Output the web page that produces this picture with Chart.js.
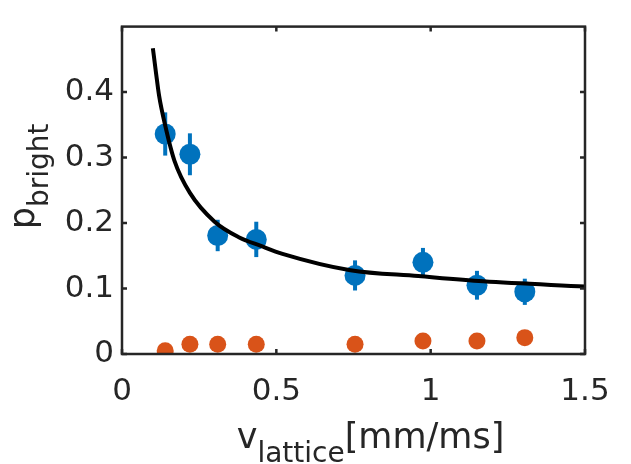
<!DOCTYPE html>
<html>
<head>
<meta charset="utf-8">
<script src="https://cdn.jsdelivr.net/npm/chart.js@4"></script>
<style>
  html, body { margin: 0; padding: 0; background: #fff; }
</style>
</head>
<body>
<canvas id="chart" width="631" height="464"></canvas>
<script>
// ----- Data -----
const vLattice   = [0.14, 0.22, 0.31, 0.435, 0.755, 0.975, 1.15, 1.305];
const pBright    = [0.336, 0.305, 0.181, 0.175, 0.12, 0.14, 0.105, 0.095];
const pBrightErr = [0.033, 0.032, 0.024, 0.027, 0.023, 0.022, 0.022, 0.020];
const pDark      = [0.005, 0.015, 0.015, 0.015, 0.015, 0.02, 0.02, 0.025];

// fit curve, sampled by eye along the black line
const fitX = [0.10, 0.11, 0.12, 0.14, 0.17, 0.22, 0.30, 0.38, 0.45, 0.52, 0.74, 0.96, 1.17, 1.5];
const fitY = [0.467, 0.43, 0.395, 0.349, 0.295, 0.246, 0.202, 0.178, 0.165, 0.153, 0.128, 0.119, 0.111, 0.103];

const xTicks = [0, 0.5, 1, 1.5];
const yTicks = [0, 0.1, 0.2, 0.3, 0.4];

const axisColor = '#262626';
const fontFam = '"DejaVu Sans", Verdana, sans-serif';

function pts(xs, ys) { return xs.map((x, i) => ({x: x, y: ys[i]})); }

// ----- error bars, drawn under the markers -----
const errorBars = {
  id: 'errorBars',
  beforeDatasetsDraw(chart) {
    const c = chart.ctx, xs = chart.scales.x, ys = chart.scales.y;
    c.save();
    c.strokeStyle = '#0072BD';
    c.lineWidth = 4;
    vLattice.forEach((v, i) => {
      const px = xs.getPixelForValue(v);
      c.beginPath();
      c.moveTo(px, ys.getPixelForValue(pBright[i] - pBrightErr[i]));
      c.lineTo(px, ys.getPixelForValue(pBright[i] + pBrightErr[i]));
      c.stroke();
    });
    c.restore();
  }
};

// ----- box with inward ticks + subscripted axis titles -----
const matlabAxes = {
  id: 'matlabAxes',
  afterDraw(chart) {
    const c = chart.ctx, a = chart.chartArea;
    const xs = chart.scales.x, ys = chart.scales.y;
    const tl = 5;
    c.save();
    c.strokeStyle = axisColor;
    c.lineWidth = 2.5;
    c.strokeRect(a.left, a.top, a.right - a.left, a.bottom - a.top);
    c.beginPath();
    xTicks.forEach(t => {
      const px = xs.getPixelForValue(t);
      c.moveTo(px, a.bottom); c.lineTo(px, a.bottom - tl);
      c.moveTo(px, a.top);    c.lineTo(px, a.top + tl);
    });
    yTicks.forEach(t => {
      const py = ys.getPixelForValue(t);
      c.moveTo(a.left, py);  c.lineTo(a.left + tl, py);
      c.moveTo(a.right, py); c.lineTo(a.right - tl, py);
    });
    c.stroke();

    // titles
    const mainF = '35px ' + fontFam, subF = '28px ' + fontFam, drop = 14;
    c.fillStyle = axisColor;
    c.textBaseline = 'alphabetic';
    c.textAlign = 'left';

    // x title: v_lattice[mm/ms]
    c.font = mainF; const w1 = c.measureText('v').width, w3 = c.measureText('[mm/ms]').width;
    c.font = subF;  const w2 = c.measureText('lattice').width;
    let x0 = (a.left + a.right) / 2 + 17 - (w1 + w2 + w3) / 2;
    const yb = 448;
    c.font = mainF; c.fillText('v', x0, yb);
    c.font = subF;  c.fillText('lattice', x0 + w1, yb + drop);
    c.font = mainF; c.fillText('[mm/ms]', x0 + w1 + w2, yb);

    // y title: p_bright
    c.font = mainF; const q1 = c.measureText('p').width;
    c.font = subF;  const q2 = c.measureText('bright').width;
    c.translate(34, (a.top + a.bottom) / 2 - 14);
    c.rotate(-Math.PI / 2);
    c.font = mainF; c.fillText('p', -(q1 + q2) / 2, 0);
    c.font = subF;  c.fillText('bright', -(q1 + q2) / 2 + q1, drop);
    c.restore();
  }
};

new Chart(document.getElementById('chart'), {
  type: 'scatter',
  data: {
    datasets: [
      {
        label: 'fit',
        type: 'line',
        data: pts(fitX, fitY),
        borderColor: '#000000',
        borderWidth: 4,
        pointRadius: 0,
        cubicInterpolationMode: 'monotone',
        fill: false,
        order: 0
      },
      {
        label: 'bright',
        data: pts(vLattice, pBright),
        backgroundColor: '#0072BD',
        borderWidth: 0,
        pointRadius: 10.5,
        order: 1
      },
      {
        label: 'dark',
        data: pts(vLattice, pDark),
        backgroundColor: '#D95319',
        borderWidth: 0,
        pointRadius: 8.5,
        order: 2
      }
    ]
  },
  options: {
    responsive: false,
    animation: false,
    events: [],
    layout: { padding: { top: 13, right: 46, left: 0, bottom: 0 } },
    plugins: { legend: { display: false }, tooltip: { enabled: false } },
    scales: {
      x: {
        type: 'linear',
        min: 0, max: 1.5,
        afterFit: s => { s.height = 110; },
        afterBuildTicks: s => { s.ticks = xTicks.map(v => ({value: v})); },
        grid: { display: false, drawTicks: false },
        border: { display: false },
        ticks: {
          padding: 19,
          color: axisColor,
          font: { family: fontFam, size: 31 },
          maxRotation: 0,
          callback: v => String(v)
        }
      },
      y: {
        type: 'linear',
        min: 0, max: 0.5,
        afterFit: s => { s.width = 122; },
        afterBuildTicks: s => { s.ticks = yTicks.map(v => ({value: v})); },
        grid: { display: false, drawTicks: false },
        border: { display: false },
        ticks: {
          padding: 8,
          color: axisColor,
          font: { family: fontFam, size: 31 },
          callback: v => String(v)
        }
      }
    }
  },
  plugins: [errorBars, matlabAxes]
});
</script>
</body>
</html>
